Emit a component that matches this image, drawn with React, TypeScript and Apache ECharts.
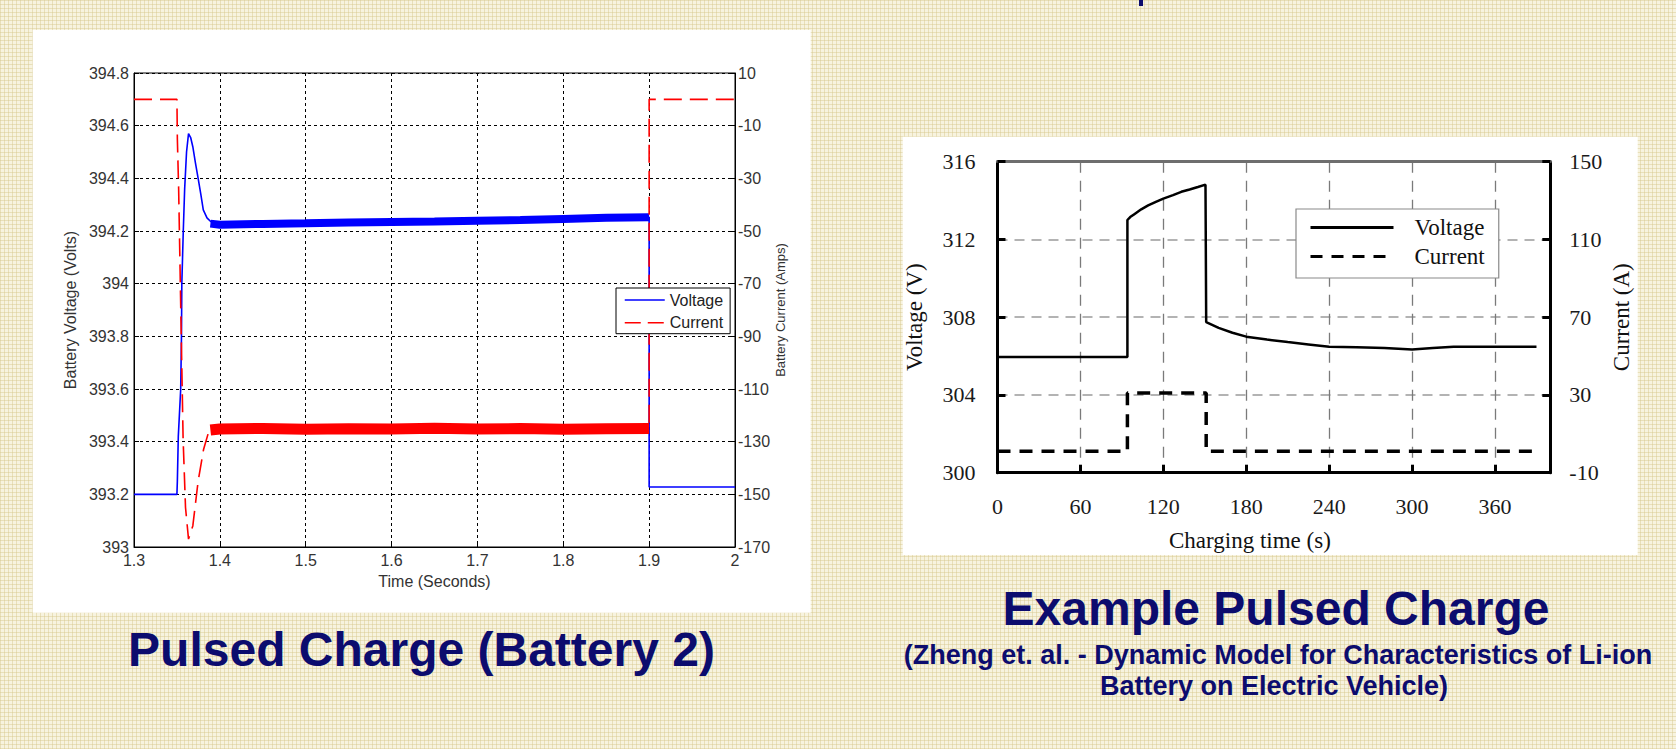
import React, { useEffect, useRef } from "react";
import * as echarts from "echarts";

// ---------- Left chart: Pulsed Charge (Battery 2) ----------
// time in seconds, voltage in volts, current in amps
const L_VOLT_T = [1.3, 1.35, 1.3505, 1.3516, 1.3544, 1.3553, 1.3557, 1.3574, 1.359, 1.3612, 1.3635, 1.366, 1.3685, 1.3715, 1.3747, 1.3778, 1.3807, 1.385, 1.3893, 1.4, 1.5, 1.6, 1.7, 1.8, 1.9, 1.9, 2.0];
const L_VOLT_V = [393.2, 393.2, 393.25, 393.42, 393.6, 393.8, 394.0, 394.2, 394.36, 394.5, 394.57, 394.555, 394.52, 394.46, 394.4, 394.34, 394.28, 394.25, 394.236, 394.225, 394.23, 394.235, 394.24, 394.246, 394.252, 393.228, 393.228];
// noisy steady band of the voltage
const L_VBAND_T = [1.389, 1.4, 1.45, 1.5, 1.55, 1.6, 1.65, 1.7, 1.75, 1.8, 1.85, 1.9];
const L_VBAND_V = [394.228, 394.224, 394.227, 394.229, 394.232, 394.234, 394.236, 394.239, 394.242, 394.246, 394.25, 394.252];

const L_CUR_T = [1.3, 1.35, 1.3505, 1.352, 1.3545, 1.3572, 1.36, 1.3635, 1.3685, 1.3747, 1.381, 1.3872, 1.392, 1.9, 1.9, 2.0];
const L_CUR_V = [0, 0, -15, -34, -80, -129, -155, -167, -162, -145, -133, -126, -125, -125, 0, 0];
// noisy steady band of the current
const L_CBAND_T = [1.389, 1.4, 1.45, 1.5, 1.55, 1.6, 1.65, 1.7, 1.75, 1.8, 1.85, 1.9];
const L_CBAND_V = [-125.6, -125.2, -125.0, -125.3, -125.1, -125.2, -124.9, -125.2, -125.0, -125.3, -125.1, -125.0];

const L_CUR_MIN = -170; // right axis from -170 to 10

// ---------- Right chart: Example Pulsed Charge ----------
const R_VOLT_T = [0, 94, 94, 96, 99, 104, 109, 115, 120, 127, 133, 139, 145, 150.5, 151, 160, 170, 180, 195, 210, 225, 240, 260, 280, 300, 315, 330, 360, 390];
const R_VOLT_V = [305.95, 305.95, 313.0, 313.15, 313.3, 313.55, 313.75, 313.95, 314.1, 314.28, 314.45, 314.57, 314.7, 314.82, 307.75, 307.45, 307.2, 307.0, 306.85, 306.72, 306.6, 306.48, 306.46, 306.42, 306.34, 306.42, 306.48, 306.48, 306.48];
const R_CUR_T = [0, 94, 94, 151, 151, 390];
const R_CUR_V = [1, 1, 31, 31, 1, 1];
const R_CUR_MIN = -10; // right axis from -10 to 150

const LEFT_TITLE = "Pulsed Charge (Battery 2)";
const RIGHT_TITLE = "Example Pulsed Charge";
const RIGHT_SUB1 = "(Zheng et. al. - Dynamic Model for Characteristics of Li-ion";
const RIGHT_SUB2 = "Battery on Electric Vehicle)";

const NAVY = "#0c0c6e";
const SANS = "Liberation Sans";
const SERIF = "Liberation Serif";

const zipMs = (t: number[], v: number[]) => t.map((x, i) => [x * 1000, v[i] * 1000]);
const zipShift = (t: number[], v: number[], shift: number) => t.map((x, i) => [x, v[i] - shift]);
const zip = (t: number[], v: number[]) => t.map((x, i) => [x, v[i]]);
const fmt = (n: number) => String(parseFloat(n.toFixed(3)));

const HIDDEN_SYMBOL = { color: "rgba(0,0,0,0)", borderColor: "rgba(0,0,0,0)", borderWidth: 0, opacity: 0 };

export default function App() {
  const ref = useRef<HTMLDivElement>(null);
  useEffect(() => {
    if (!ref.current) return;
    const chart = echarts.init(ref.current, undefined, { renderer: "svg" });
    const leftAxisText = { color: "#333", fontSize: 16, fontFamily: SANS };
    const rightAxisText = { color: "#1a1a1a", fontSize: 22, fontFamily: SERIF };
    const option: any = {
      animation: false,
      textStyle: { fontFamily: SANS },
      graphic: [
        { type: "rect", z: -10, shape: { x: 32.7, y: 30, width: 778, height: 582.7 }, style: { fill: "#ffffff" } },
        { type: "rect", z: -10, shape: { x: 902.7, y: 136.7, width: 735, height: 418.3 }, style: { fill: "#ffffff" } },
        { type: "rect", z: -10, shape: { x: 1139, y: 0, width: 4, height: 6 }, style: { fill: NAVY } },
        { type: "text", x: 421.5, y: 649, style: { text: LEFT_TITLE, fill: NAVY, fontSize: 48, fontWeight: "bold", fontFamily: SANS, textAlign: "center", textVerticalAlign: "middle" } },
        { type: "text", x: 1276, y: 608.4, style: { text: RIGHT_TITLE, fill: NAVY, fontSize: 48, fontWeight: "bold", fontFamily: SANS, textAlign: "center", textVerticalAlign: "middle" } },
        { type: "text", x: 1278, y: 655, style: { text: RIGHT_SUB1, fill: NAVY, fontSize: 27, fontWeight: "bold", fontFamily: SANS, textAlign: "center", textVerticalAlign: "middle" } },
        { type: "text", x: 1274, y: 686, style: { text: RIGHT_SUB2, fill: NAVY, fontSize: 27, fontWeight: "bold", fontFamily: SANS, textAlign: "center", textVerticalAlign: "middle" } },
      ],
      legend: [
        {
          data: [
            { name: "Voltage", lineStyle: { width: 1.5, type: "solid", color: "#0000ff" }, itemStyle: HIDDEN_SYMBOL },
            { name: "Current", lineStyle: { width: 1.5, type: [16, 7], color: "#ff0000" }, itemStyle: HIDDEN_SYMBOL },
          ],
          orient: "vertical",
          left: 616,
          top: 288,
          itemWidth: 40,
          itemHeight: 12,
          itemGap: 6.7,
          padding: [4, 7, 3, 8],
          borderColor: "#000",
          borderWidth: 1,
          backgroundColor: "#fff",
          selectedMode: false,
          textStyle: { fontSize: 16, lineHeight: 16, color: "#222", fontFamily: SANS },
        },
        {
          data: [
            { name: "R-Voltage", lineStyle: { width: 3, type: "solid", color: "#000" }, itemStyle: HIDDEN_SYMBOL },
            { name: "R-Current", lineStyle: { width: 3, type: [12, 9], color: "#000" }, itemStyle: HIDDEN_SYMBOL },
          ],
          formatter: (n: string) => n.replace("R-", ""),
          orient: "vertical",
          left: 1296,
          top: 209,
          itemWidth: 83,
          itemHeight: 14,
          itemGap: 6,
          padding: [7, 14, 10, 13],
          borderColor: "#8a8a8a",
          borderWidth: 1.2,
          backgroundColor: "#fff",
          selectedMode: false,
          textStyle: { fontSize: 23, lineHeight: 23, color: "#111", fontFamily: SERIF, padding: [0, 0, 0, 16] },
        },
      ],
      grid: [
        { left: 134, top: 73, width: 601, height: 474, show: true, borderColor: "#000", borderWidth: 1, containLabel: false },
        { left: 997.5, top: 161.7, width: 552.8, height: 311, containLabel: false },
      ],
      xAxis: [
        {
          gridIndex: 0, type: "value", min: 1300, max: 2000, interval: 100,
          axisLine: { show: true, onZero: false, lineStyle: { color: "#000", width: 1 } },
          axisTick: { show: true, inside: true, length: 5, lineStyle: { color: "#000" } },
          axisLabel: { ...leftAxisText, margin: 5, formatter: (v: number) => fmt(v / 1000) },
          splitLine: { show: true, lineStyle: { color: "#000", type: [3, 3], width: 1 } },
          name: "Time (Seconds)", nameLocation: "middle", nameGap: 26, nameTextStyle: leftAxisText,
        },
        {
          gridIndex: 1, type: "value", min: 0, max: 400, interval: 60,
          axisLine: { show: true, onZero: false, lineStyle: { color: "#000", width: 3 } },
          axisTick: { show: true, inside: true, length: 8, lineStyle: { color: "#000", width: 3 } },
          axisLabel: { ...rightAxisText, margin: 23, showMaxLabel: false },
          splitLine: { show: true, lineStyle: { color: "#7a7a7a", type: [11, 8], width: 1.3 } },
          name: "Charging time (s)", nameLocation: "middle", nameGap: 56,
          nameTextStyle: { color: "#111", fontSize: 23, fontFamily: SERIF, padding: [0, 48, 0, 0] },
        },
        {
          gridIndex: 1, type: "value", position: "top", min: 0, max: 400, interval: 60,
          axisLine: { show: true, onZero: false, lineStyle: { color: "#6e6e6e", width: 3 } },
          axisTick: { show: false }, axisLabel: { show: false }, splitLine: { show: false },
        },
      ],
      yAxis: [
        {
          gridIndex: 0, type: "value", position: "left", min: 393000, max: 394800, interval: 200,
          axisLine: { show: true, onZero: false, lineStyle: { color: "#000", width: 1 } },
          axisTick: { show: true, inside: true, length: 5, lineStyle: { color: "#000" } },
          axisLabel: { ...leftAxisText, margin: 5, formatter: (v: number) => fmt(v / 1000) },
          splitLine: { show: true, lineStyle: { color: "#000", type: [3, 3], width: 1 } },
          name: "Battery Voltage (Volts)", nameLocation: "middle", nameGap: 56, nameTextStyle: leftAxisText,
        },
        {
          gridIndex: 0, type: "value", position: "right", min: 0, max: 180, interval: 20,
          axisLine: { show: true, onZero: false, lineStyle: { color: "#000", width: 1 } },
          axisTick: { show: true, inside: true, length: 5, lineStyle: { color: "#000" } },
          axisLabel: { ...leftAxisText, margin: 3, formatter: (v: number) => fmt(v + L_CUR_MIN) },
          splitLine: { show: false },
          name: "Battery Current (Amps)", nameLocation: "middle", nameGap: 39,
          nameTextStyle: { color: "#333", fontSize: 13, fontFamily: SANS },
        },
        {
          gridIndex: 1, type: "value", position: "left", min: 300, max: 316, interval: 4,
          axisLine: { show: true, onZero: false, lineStyle: { color: "#000", width: 3 } },
          axisTick: { show: true, inside: true, length: 8, lineStyle: { color: "#000", width: 3 } },
          axisLabel: { ...rightAxisText, margin: 22 },
          splitLine: { show: true, lineStyle: { color: "#9a9a9a", type: [10, 7], width: 1.5 } },
          name: "Voltage (V)", nameLocation: "middle", nameGap: 72,
          nameTextStyle: { color: "#111", fontSize: 23, fontFamily: SERIF },
        },
        {
          gridIndex: 1, type: "value", position: "right", min: 0, max: 160, interval: 40,
          axisLine: { show: true, onZero: false, lineStyle: { color: "#000", width: 3 } },
          axisTick: { show: true, inside: true, length: 8, lineStyle: { color: "#000", width: 3 } },
          axisLabel: { ...rightAxisText, margin: 19, formatter: (v: number) => fmt(v + R_CUR_MIN) },
          splitLine: { show: false },
          name: "Current (A)", nameLocation: "middle", nameGap: 60,
          nameTextStyle: { color: "#111", fontSize: 23, fontFamily: SERIF },
        },
      ],
      series: [
        {
          type: "line", name: "Voltage", xAxisIndex: 0, yAxisIndex: 0, symbol: "none",
          data: zipMs(L_VOLT_T, L_VOLT_V),
          lineStyle: { color: "#0000ff", width: 1.6 }, itemStyle: { color: "#0000ff" },
        },
        {
          type: "line", name: "Voltage band", xAxisIndex: 0, yAxisIndex: 0, symbol: "none",
          data: zipMs(L_VBAND_T, L_VBAND_V),
          lineStyle: { color: "#0000ff", width: 8 }, itemStyle: { color: "#0000ff" },
        },
        {
          type: "line", name: "Current", xAxisIndex: 0, yAxisIndex: 1, symbol: "none",
          data: zipShift(L_CUR_T.map((t) => t * 1000), L_CUR_V, L_CUR_MIN),
          lineStyle: { color: "#ff0000", width: 1.6, type: [18, 8] }, itemStyle: { color: "#ff0000" },
        },
        {
          type: "line", name: "Current band", xAxisIndex: 0, yAxisIndex: 1, symbol: "none",
          data: zipShift(L_CBAND_T.map((t) => t * 1000), L_CBAND_V, L_CUR_MIN),
          lineStyle: { color: "#ff0000", width: 11 }, itemStyle: { color: "#ff0000" },
        },
        {
          type: "line", name: "R-Voltage", xAxisIndex: 1, yAxisIndex: 2, symbol: "none",
          data: zip(R_VOLT_T, R_VOLT_V),
          lineStyle: { color: "#000", width: 2.5 }, itemStyle: { color: "#000" },
        },
        {
          type: "line", name: "R-Current", xAxisIndex: 1, yAxisIndex: 3, symbol: "none",
          data: zipShift(R_CUR_T, R_CUR_V, R_CUR_MIN),
          lineStyle: { color: "#000", width: 3.5, type: [13, 9] }, itemStyle: { color: "#000" },
        },
      ],
    };
    chart.setOption(option);
    return () => chart.dispose();
  }, []);

  return (
    <div
      style={{
        position: "fixed",
        left: 0,
        top: 0,
        width: 1676,
        height: 749,
        backgroundColor: "#f7f3df",
        backgroundImage:
          "linear-gradient(90deg, rgba(214,200,140,0.45) 1px, transparent 1px), linear-gradient(rgba(214,200,140,0.45) 1px, transparent 1px)",
        backgroundSize: "4px 4px",
      }}
    >
      <div ref={ref} style={{ width: 1676, height: 749 }} />
    </div>
  );
}
